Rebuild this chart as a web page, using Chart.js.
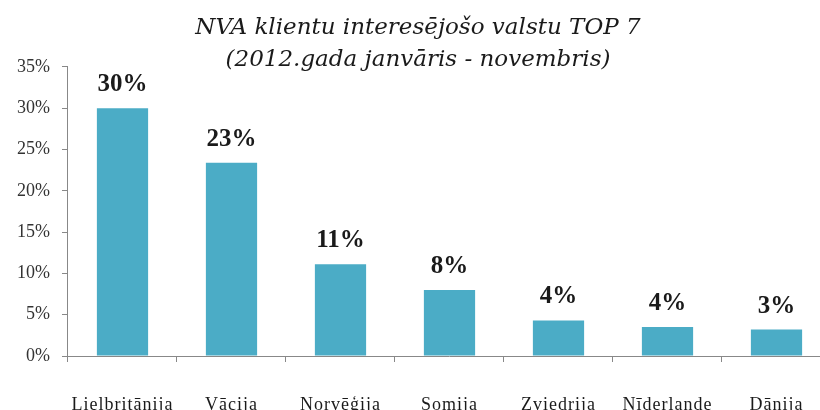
<!DOCTYPE html>
<html>
<head>
<meta charset="utf-8">
<script src="https://cdn.jsdelivr.net/npm/chart.js@4/dist/chart.umd.min.js"></script>
<style>
  html, body { margin: 0; padding: 0; background: #ffffff; overflow: hidden; }
  #wrap { width: 835px; height: 410px; position: relative; }
</style>
</head>
<body>
<div id="wrap"><canvas id="c"></canvas></div>
<script>
const categories = ['Lielbritānija', 'Vācija', 'Norvēģija', 'Somija', 'Zviedrija', 'Nīderlande', 'Dānija'];
const shares = [30.0, 23.4, 11.1, 8.0, 4.3, 3.5, 3.2];
const titleLines = ['NVA klientu interesējošo valstu TOP 7', '(2012.gada janvāris - novembris)'];

const valueLabels = {
  id: 'valueLabels',
  afterDatasetsDraw(chart) {
    const ctx = chart.ctx;
    const meta = chart.getDatasetMeta(0);
    ctx.save();
    ctx.font = 'bold 25px "Liberation Serif", "Times New Roman", serif';
    ctx.fillStyle = '#1a1a1a';
    ctx.textAlign = 'center';
    ctx.textBaseline = 'alphabetic';
    meta.data.forEach((bar, i) => {
      ctx.fillText(Math.round(shares[i]) + '%', bar.x, bar.y - 17);
    });
    ctx.restore();
  }
};

const spacedX = {
  id: 'spacedX',
  afterUpdate(chart) {
    const sx = chart.scales.x;
    if (sx && !sx._spacedWrapped) {
      const orig = sx.drawLabels;
      sx.drawLabels = function (area) {
        this.ctx.save();
        try { this.ctx.letterSpacing = '1px'; } catch (e) {}
        orig.call(this, area);
        this.ctx.restore();
      };
      sx._spacedWrapped = true;
    }
  }
};

new Chart(document.getElementById('c'), {
  type: 'bar',
  data: {
    labels: categories,
    datasets: [{
      data: shares,
      backgroundColor: '#4BACC6',
      borderWidth: 0,
      barPercentage: 0.47,
      categoryPercentage: 1.0
    }]
  },
  options: {
    responsive: true,
    maintainAspectRatio: false,
    animation: false,
    layout: { padding: { left: 5, right: 4, top: 0, bottom: 0 } },
    plugins: {
      legend: { display: false },
      tooltip: { enabled: false },
      title: {
        display: true,
        text: titleLines,
        color: '#1a1a1a',
        font: { family: '"DejaVu Serif", "Liberation Serif", serif', size: 23, style: 'italic', weight: 'normal', lineHeight: 1.391 },
        padding: { top: 12, bottom: -9 }
      }
    },
    scales: {
      x: {
        grid: { display: true, drawOnChartArea: false, drawTicks: true, tickLength: 6, color: '#888888', offset: true },
        border: { display: true, color: '#888888', width: 1 },
        ticks: {
          color: '#1a1a1a',
          padding: 32,
          maxRotation: 0,
          autoSkip: false,
          font: { family: '"Liberation Serif", "Times New Roman", serif', size: 18 }
        },
        afterFit(scale) { scale.height = 54; }
      },
      y: {
        min: 0,
        max: 35,
        grid: { display: true, drawOnChartArea: false, drawTicks: true, tickLength: 6, color: '#888888' },
        border: { display: true, color: '#888888', width: 1 },
        ticks: {
          stepSize: 5,
          color: '#333333',
          padding: 12,
          font: { family: '"Liberation Serif", "Times New Roman", serif', size: 18 },
          callback: (v) => v + '%'
        }
      }
    }
  },
  plugins: [valueLabels, spacedX]
});
</script>
</body>
</html>
